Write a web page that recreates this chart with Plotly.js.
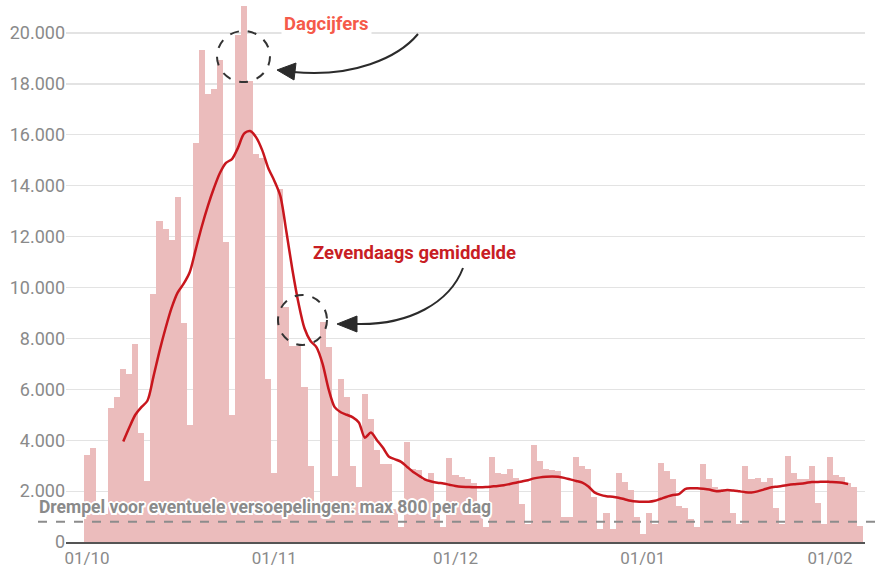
<!DOCTYPE html>
<html>
<head>
<meta charset="utf-8">
<script src="https://cdn.plot.ly/plotly-3.0.1.min.js"></script>
<style>
  html, body { margin: 0; padding: 0; background: #ffffff; }
  #chart { width: 877px; height: 572px; }
</style>
</head>
<body>
<div id="chart"></div>
<script>
// ---- data ----
const startDate = [2020, 9, 1]; // 1 Oct 2020 (month is 0-based)
const dailyCases = [
  3400, 3700, 1200, 1100, 5250, 5680, 6800, 6600, 7780, 4280,
  2380, 9760, 12600, 12300, 11850, 13550, 8600, 4600, 15700, 19350,
  17600, 17800, 18950, 11800, 5000, 19920, 21050, 18100, 15250, 15100,
  6400, 2700, 13870, 9250, 7700, 7700, 6100, 3000, 1580, 8660,
  7670, 2600, 6400, 5700, 3000, 2170, 5830, 4850, 3610, 3060,
  3060, 1300, 600, 3940, 2860, 2840, 2440, 2720, 1400, 600,
  3290, 2630, 2570, 2480, 2300, 1300, 600, 3340, 2720, 2690,
  2870, 2500, 1500, 700, 3810, 3190, 2850, 2830, 2810, 1000,
  1000, 3350, 2990, 2860, 1780, 500, 1130, 500, 2720, 2370,
  2040, 1000, 300, 1130, 700, 3100, 2800, 2470, 1400, 1350,
  900, 600, 3050, 2460, 2170, 2080, 2040, 1150, 700, 3000,
  2460, 2500, 2370, 2500, 1350, 700, 3380, 2720, 2460, 2460,
  2990, 1520, 700, 3330, 2630, 2570, 2300, 2150, 640
];
const avgStartIndex = 6; // first day that has a seven-day average
const sevenDayAvg = [
  3950, 4500, 5000, 5300, 5550, 6500, 7500, 8400, 9200, 9800,
  10150, 10600, 11500, 12400, 13200, 13900, 14500, 14900, 15050, 15500,
  16050, 16150, 15900, 15400, 14700, 14200, 13600, 12200, 10700, 9400,
  8400, 7900, 7650, 7000, 6000, 5300, 5100, 5000, 4900, 4700,
  4100, 4300, 4000, 3700, 3350, 3250, 3150, 2950, 2750, 2600,
  2450, 2380, 2330, 2300, 2250, 2200, 2170, 2160, 2150, 2150,
  2160, 2180, 2200, 2230, 2280, 2330, 2380, 2430, 2500, 2540,
  2560, 2570, 2560, 2520, 2460, 2400, 2330, 2180, 1950, 1850,
  1800, 1780, 1740, 1680, 1620, 1590, 1580, 1580, 1620, 1700,
  1780, 1850, 1880, 2080, 2110, 2110, 2090, 2060, 2000, 2010,
  2040, 2020, 1990, 1960, 1950, 1990, 2060, 2130, 2170, 2200,
  2240, 2270, 2290, 2320, 2360, 2360, 2370, 2360, 2350, 2330,
  2280
];
const threshold = 800;
const xTickVals = ['2020-10-01', '2020-11-01', '2020-12-01', '2021-01-01', '2021-02-01'];
const xTickText = ['01/10', '01/11', '01/12', '01/01', '01/02'];
const yTickVals = [0, 2000, 4000, 6000, 8000, 10000, 12000, 14000, 16000, 18000, 20000];
const yTickText = ['0', '2.000', '4.000', '6.000', '8.000', '10.000', '12.000', '14.000', '16.000', '18.000', '20.000'];
const labelDaily = 'Dagcijfers';
const labelAvg = 'Zevendaags gemiddelde';
const labelThreshold = 'Drempel voor eventuele versoepelingen: max 800 per dag';

// ---- helpers ----
function dayString(i) {
  const d = new Date(Date.UTC(startDate[0], startDate[1], startDate[2] + i));
  return d.toISOString().slice(0, 10);
}
const dailyDates = dailyCases.map((_, i) => dayString(i));
const avgDates = sevenDayAvg.map((_, i) => dayString(i + avgStartIndex));

// layout geometry (pixels of the 877x572 page)
const W = 877, H = 572;
const M = { l: 66, r: 12, t: 0, b: 30 };
const PW = W - M.l - M.r, PH = H - M.t - M.b;
const px = x => (x - M.l) / PW;
const py = y => (H - M.b - y) / PH;
function path(cmds) {
  return cmds.map(c => c[0] + ' ' + c.slice(1).map((v, k) => (k % 2 === 0 ? px(v) : py(v)).toFixed(5)).join(' ')).join(' ');
}

const dark = '#2b2b2b';
const shapes = [
  // threshold line
  { type: 'line', xref: 'paper', yref: 'y', x0: px(38), x1: px(877), y0: threshold, y1: threshold,
    line: { color: '#8c8c8c', width: 2, dash: 'dash' }, layer: 'above' },
  // dashed circles
  { type: 'circle', xref: 'paper', yref: 'paper', x0: px(217), x1: px(270), y0: py(82), y1: py(31),
    line: { color: '#333', width: 2, dash: 'dash' } },
  { type: 'circle', xref: 'paper', yref: 'paper', x0: px(278), x1: px(327), y0: py(345), y1: py(295),
    line: { color: '#333', width: 2, dash: 'dash' } },
  // arrow 1 (curved)
  { type: 'path', xref: 'paper', yref: 'paper',
    path: path([['M', 418, 34], ['C', 398, 58, 352, 78, 293, 72]]),
    line: { color: dark, width: 2 } },
  { type: 'path', xref: 'paper', yref: 'paper',
    path: path([['M', 277, 70], ['L', 296, 63], ['L', 294, 80]]) + ' Z',
    fillcolor: dark, line: { color: dark, width: 1 } },
  // arrow 2 (curved)
  { type: 'path', xref: 'paper', yref: 'paper',
    path: path([['M', 463, 268], ['C', 450, 302, 410, 326, 354, 324]]),
    line: { color: dark, width: 2 } },
  { type: 'path', xref: 'paper', yref: 'paper',
    path: path([['M', 337, 324], ['L', 357, 316], ['L', 357, 332]]) + ' Z',
    fillcolor: dark, line: { color: dark, width: 1 } }
];

const halo = '-1.5px -1.5px 0 #fff, 1.5px -1.5px 0 #fff, -1.5px 1.5px 0 #fff, 1.5px 1.5px 0 #fff, 0 2px 0 #fff, 0 -2px 0 #fff, 2px 0 0 #fff, -2px 0 0 #fff';

const annotations = [
  { xref: 'paper', yref: 'paper', x: px(326), y: py(24), text: labelDaily, showarrow: false,
    font: { family: 'Roboto, sans-serif', size: 18.5, color: '#f55a4a', weight: 700 },
    bgcolor: '#ffffff', borderpad: 2, xanchor: 'center', yanchor: 'middle' },
  { xref: 'paper', yref: 'paper', x: px(414), y: py(253), text: labelAvg, showarrow: false,
    font: { family: 'Roboto, sans-serif', size: 18.5, color: '#c81e24', weight: 700 },
    xanchor: 'center', yanchor: 'middle' },
  { xref: 'paper', yref: 'paper', x: px(37), y: py(507), text: labelThreshold, showarrow: false,
    font: { family: 'Roboto, sans-serif', size: 17.5, color: '#8a8a8a', weight: 700, shadow: halo },
    xanchor: 'left', yanchor: 'middle' }
];

const traces = [
  { type: 'bar', x: dailyDates, y: dailyCases, name: labelDaily,
    marker: { color: '#ebbcbc', line: { width: 0 } }, hoverinfo: 'x+y' },
  { type: 'scatter', mode: 'lines', x: avgDates, y: sevenDayAvg, name: labelAvg,
    line: { color: '#c8161d', width: 2.5, shape: 'spline', smoothing: 0.8 }, hoverinfo: 'x+y' }
];

const layout = {
  width: W, height: H,
  margin: M,
  paper_bgcolor: '#ffffff', plot_bgcolor: '#ffffff',
  showlegend: false,
  bargap: 0,
  font: { family: 'Roboto, sans-serif', size: 16, color: '#8a8a8a' },
  xaxis: {
    type: 'date',
    range: ['2020-09-27 12:30', '2021-02-06 19:00'],
    tickvals: xTickVals, ticktext: xTickText,
    showgrid: false, zeroline: false,
    showline: true, linecolor: '#555', linewidth: 1.5,
    ticks: '', tickfont: { family: 'Roboto, sans-serif', size: 17, color: '#8a8a8a' }
  },
  yaxis: {
    range: [0, 21300],
    tickvals: yTickVals, ticktext: yTickText,
    showgrid: true, gridcolor: '#e3e3e3', gridwidth: 1.2,
    zeroline: false, showline: false, ticks: '',
    tickfont: { family: 'Roboto, sans-serif', size: 18, color: '#8a8a8a' }
  },
  shapes: shapes,
  annotations: annotations
};

Plotly.newPlot('chart', traces, layout, { staticPlot: true, displayModeBar: false });
</script>
</body>
</html>
